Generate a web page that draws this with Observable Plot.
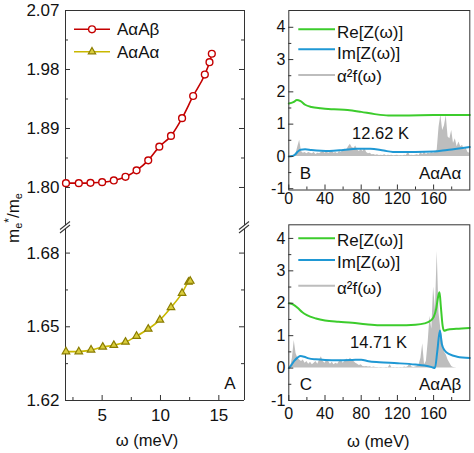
<!DOCTYPE html>
<html><head><meta charset="utf-8">
<script src="https://cdn.jsdelivr.net/npm/d3@7"></script>
<script src="https://cdn.jsdelivr.net/npm/@observablehq/plot@0.6"></script>
<style>
body{margin:0;background:#fff;}
#root{position:relative;width:474px;height:453px;overflow:hidden;font-family:"Liberation Sans",Arial,sans-serif;color:#111;}
.pane{position:absolute;}
.pane svg{display:block;}
#ylab{position:absolute;left:13px;top:218px;transform:translate(-50%,-50%) rotate(-90deg);white-space:nowrap;font-size:17px;line-height:17px;}
#ylab sub{font-size:11px;vertical-align:-3px;line-height:0;}
#ylab sup{font-size:12px;vertical-align:6px;line-height:0;}
</style></head><body><div id="root"><div id="ylab">m<sub>e</sub><sup>*</sup>/m<sub>e</sub></div></div>
<script>
// ---------------- data ----------------
// Panel A: effective mass vs omega
const omegaBeta  = [1.9, 3.0, 4.0, 5.0, 6.0, 7.0, 7.95, 8.95, 9.9, 10.9, 11.85, 12.8, 13.8, 14.2, 14.4];
const massBeta   = [1.8066, 1.8066, 1.8071, 1.8081, 1.8107, 1.8163, 1.8261, 1.8414, 1.8623, 1.8787, 1.9058, 1.9396, 1.9723, 1.9911, 2.004];
const omegaAlpha = [1.9, 3.0, 4.05, 5.05, 6.0, 7.0, 7.95, 8.95, 9.95, 10.9, 11.85, 12.4, 12.55];
const massAlpha  = [1.6399, 1.6399, 1.6406, 1.6418, 1.6425, 1.6438, 1.6462, 1.6491, 1.6528, 1.6579, 1.6637, 1.6682, 1.6686];
const xDomainA = [1.86, 17.2];
const yDomainUpper = [1.742, 2.07];
const yDomainLower = [1.62, 1.6896];
const xTicksA = [5, 10, 15];
const xMinorA = [2.5, 7.5, 12.5];
const yTicksUpper = [1.80, 1.89, 1.98, 2.07];
const yMinorUpper = [1.845, 1.935, 2.025];
const yTicksLower = [1.62, 1.65, 1.68];
const yMinorLower = [1.635, 1.665];
const seriesNamesA = ["AαAβ", "AαAα"];

// Panels B / C: Z(omega) and alpha^2 F(omega)
const reOmegaB = [0, 5, 9, 13, 18, 25, 35, 50, 65, 80, 95, 110, 130, 160, 180, 200];
const reZB     = [1.64, 1.68, 1.75, 1.71, 1.60, 1.53, 1.49, 1.46, 1.44, 1.38, 1.31, 1.27, 1.27, 1.28, 1.28, 1.28];
const imOmegaB = [0, 4, 7, 10, 13, 18, 25, 45, 60, 75, 90, 105, 115, 140, 160, 175, 190, 200];
const imZB     = [0, 0.01, 0.06, 0.15, 0.21, 0.22, 0.2, 0.17, 0.2, 0.24, 0.24, 0.18, 0.14, 0.14, 0.15, 0.2, 0.25, 0.29];
const reOmegaC = [0, 5, 10, 15, 20, 30, 40, 55, 70, 85, 100, 120, 140, 150, 156, 160, 163, 165, 166.5, 168, 170, 171.5, 175, 185, 200];
const reZC     = [2.0, 1.96, 1.85, 1.72, 1.63, 1.53, 1.47, 1.43, 1.40, 1.35, 1.32, 1.32, 1.34, 1.38, 1.45, 1.57, 1.85, 2.2, 2.34, 1.9, 1.3, 1.15, 1.18, 1.21, 1.24];
const imOmegaC = [0, 3, 6, 10, 13, 17, 22, 30, 40, 55, 70, 80, 88, 100, 120, 140, 150, 158, 161.5, 164, 167, 169, 172, 178, 186, 200];
const imZC     = [0, 0.1, 0.22, 0.33, 0.37, 0.35, 0.3, 0.27, 0.25, 0.24, 0.25, 0.26, 0.21, 0.18, 0.15, 0.11, 0.08, 0.03, 0.0, 0.5, 1.16, 0.75, 0.55, 0.42, 0.35, 0.31];
const a2fOmega = [0,2,4,6,8,10,12,14,16,18,20,22,24,26,28,30,32,34,36,38,40,42,44,46,48,50,52,54,56,58,60,62,64,66,68,70,72,74,76,78,80,82,84,86,88,90,92,94,96,98,100,102,104,106,108,110,112,114,116,118,120,122,124,126,128,130,132,134,136,138,140,142,144,146,148,150,152,154,156,158,160,162,164,166,168,170,172,174,176,178,180,182,184,186,188,190,192,194,196,198,200];
const a2fB = [0,0,0.02,0.04,0.08,0.3,0.5,0.15,0.1,0.12,0.08,0.12,0.1,0.08,0.12,0.06,0.1,0.08,0.12,0.15,0.1,0.14,0.1,0.12,0.16,0.1,0.12,0.08,0.15,0.12,0.18,0.22,0.2,0.3,0.38,0.28,0.25,0.32,0.2,0.15,0.22,0.15,0.25,0.12,0.08,0.1,0.05,0.06,0.04,0.05,0.03,0.04,0.03,0.05,0.02,0.04,0.03,0.04,0.02,0.03,0.04,0.02,0.03,0.02,0.04,0.03,0.14,0.03,0.04,0.03,0.04,0.05,0.03,0.12,0.05,0.15,0.06,0.1,0.08,0.12,0.1,0.12,0.2,0.9,1.28,0.8,0.95,1.27,0.6,0.55,0.8,0.4,0.55,0.3,0.45,0.3,0.35,0.2,0.25,0.12,0.1];
const a2fC = [0,0.02,0.3,0.85,0.45,0.3,0.25,0.2,0.25,0.15,0.2,0.12,0.18,0.1,0.15,0.2,0.12,0.25,0.35,0.2,0.15,0.25,0.2,0.12,0.18,0.1,0.15,0.12,0.2,0.25,0.15,0.2,0.28,0.22,0.3,0.25,0.2,0.15,0.12,0.08,0.1,0.05,0.04,0.05,0.03,0.04,0.02,0.03,0.02,0.02,0.01,0.02,0.01,0.01,0.02,0.01,0.1,0.01,0.02,0.01,0.02,0.01,0.02,0.01,0.03,0.02,0.05,0.15,0.03,0.02,0.03,0.05,0.1,0.3,0.75,0.1,0.2,0.8,1.6,1.2,2.5,1.8,3.6,1.7,1.2,0.9,0.5,0.4,0.25,0.15,0.05,0.02,0.01,0,0,0,0,0,0,0,0];
const xDomainZ = [0, 200];
const yDomainB = [-1.04, 4.52];
const yDomainC = [-1.0, 4.42];
const xTicksZ = [0, 40, 80, 120, 160];
const xMinorZ = [20, 60, 100, 140, 180];
const yTicksZ = [-1, 0, 1, 2, 3, 4];
const yMinorZ = [-0.5, 0.5, 1.5, 2.5, 3.5];
const legendZ = ["Re[Z(ω)]", "Im[Z(ω)]", "α²f(ω)"];
const tcB = "12.62 K", tcC = "14.71 K";

// ---------------- styles ----------------
const FONT = "'Liberation Sans', Arial, sans-serif";
const AX = "#333";
const RED = "#c40000", YEL = "#c9b800", YELFILL = "#d9cd3c", YELSTROKE = "#8a7c00";
const GREEN = "#3ccc2c", BLUE = "#1f98d4", GRAY = "#bdbdbd";
const root = document.getElementById("root");
const style = {background: "transparent", overflow: "visible", fontFamily: FONT};

function place(svg, left, top) {
  const d = document.createElement("div");
  d.className = "pane";
  d.style.left = left + "px"; d.style.top = top + "px";
  d.appendChild(svg); root.appendChild(d);
  return d3.select(svg);
}
const tY = (vals, side, len, W) => Plot.tickY(vals, {y: d => d, stroke: AX, insetLeft: side === "right" ? W - len : 0, insetRight: side === "left" ? W - len : 0});
const tX = (vals, side, len, H) => Plot.tickX(vals, {x: d => d, stroke: AX, insetTop: side === "bottom" ? H - len : 0, insetBottom: side === "top" ? H - len : 0});
const note = (txt, frameAnchor, opts) => Plot.text([txt], {frameAnchor, lineAnchor: "middle", textAnchor: "middle", fill: "#111", ...opts});

// ---------------- panel A (upper) ----------------
const AW = 250, AML = 65, AMR = 6, AFW = AW - AML - AMR;
const upH = 225;
const up = Plot.plot({
  width: AW, height: upH, marginLeft: AML, marginRight: AMR, marginTop: 10, marginBottom: 0, style,
  x: {domain: xDomainA, axis: null},
  y: {domain: yDomainUpper},
  marks: [
    Plot.ruleX(xDomainA, {stroke: AX}),
    Plot.ruleY([yDomainUpper[1]], {stroke: AX}),
    tY(yTicksUpper, "left", 5, AFW), tY(yMinorUpper, "left", 3, AFW),
    tY(yTicksUpper, "right", 5, AFW), tY(yMinorUpper, "right", 3, AFW),
    Plot.axisY({ticks: yTicksUpper, tickSize: 0, tickPadding: 6, tickFormat: d3.format(".2f"), fontSize: 17, label: null, fill: "#111"}),
    Plot.line(omegaBeta, {x: d => d, y: (d, i) => massBeta[i], stroke: RED, strokeWidth: 1.6, curve: "monotone-x"}),
    Plot.dot(omegaBeta, {x: d => d, y: (d, i) => massBeta[i], r: 3.4, stroke: RED, strokeWidth: 1.4, fill: "white"})
  ]
});
const upS = place(up, 0, 0);
// legend
const lg = upS.append("g").attr("text-anchor", "start");
lg.append("line").attr("x1", 74).attr("x2", 110).attr("y1", 29.3).attr("y2", 29.3).attr("stroke", RED).attr("stroke-width", 1.6);
lg.append("circle").attr("cx", 92).attr("cy", 29.3).attr("r", 3.4).attr("fill", "white").attr("stroke", RED).attr("stroke-width", 1.4);
lg.append("text").attr("x", 117).attr("y", 29.3).attr("dy", "0.35em").attr("font-size", 17).attr("fill", "#111").text(seriesNamesA[0]);
lg.append("line").attr("x1", 74).attr("x2", 110).attr("y1", 51.7).attr("y2", 51.7).attr("stroke", YEL).attr("stroke-width", 1.6);
lg.append("path").attr("transform", "translate(92,51.7)").attr("d", d3.symbol(d3.symbolTriangle, 23)()).attr("fill", YELFILL).attr("stroke", YELSTROKE).attr("stroke-width", 1.2);
lg.append("text").attr("x", 117).attr("y", 51.7).attr("dy", "0.35em").attr("font-size", 17).attr("fill", "#111").text(seriesNamesA[1]);

// ---------------- panel A (lower) ----------------
const loTop = 229, loH = 224, loFH = 171;
const lo = Plot.plot({
  width: AW, height: loH, marginLeft: AML, marginRight: AMR, marginTop: 0, marginBottom: loH - loFH, style,
  x: {domain: xDomainA},
  y: {domain: yDomainLower},
  marks: [
    Plot.ruleX(xDomainA, {stroke: AX}),
    Plot.ruleY([yDomainLower[0]], {stroke: AX}),
    tY(yTicksLower, "left", 5, AFW), tY(yMinorLower, "left", 3, AFW),
    tY(yTicksLower, "right", 5, AFW), tY(yMinorLower, "right", 3, AFW),
    tX(xTicksA, "bottom", 5, loFH), tX(xMinorA, "bottom", 3, loFH),
    Plot.axisY({ticks: yTicksLower, tickSize: 0, tickPadding: 6, tickFormat: d3.format(".2f"), fontSize: 17, label: null, fill: "#111"}),
    Plot.axisX({ticks: xTicksA, tickSize: 0, tickPadding: 8, fontSize: 17, label: null, fill: "#111"}),
    note("A", "bottom-right", {textAnchor: "end", dx: -9, dy: -17, fontSize: 17}),
    note("ω (meV)", "bottom", {dx: -8, dy: 40.5, fontSize: 16.5}),
    Plot.line(omegaAlpha, {x: d => d, y: (d, i) => massAlpha[i], stroke: YEL, strokeWidth: 1.6, curve: "monotone-x"}),
    Plot.dot(omegaAlpha, {x: d => d, y: (d, i) => massAlpha[i], symbol: "triangle", r: 2.8, fill: YELFILL, stroke: YELSTROKE, strokeWidth: 1.2})
  ]
});
place(lo, 0, loTop);

// axis-break marks (decoration)
const brk = upS.append("g").attr("stroke", AX).attr("stroke-width", 1.1);
[AML, AW - AMR].forEach(x => {
  const y = 227;
  brk.append("line").attr("x1", x - 5).attr("y1", y + 2.5).attr("x2", x + 5).attr("y2", y - 5.5);
  brk.append("line").attr("x1", x - 5).attr("y1", y + 6).attr("x2", x + 5).attr("y2", y - 2);
});

// ---------------- panels B and C ----------------
function zPanel({top, height, mTop, mBottom, yDomain, reO, reV, imO, imV, a2f, tc, tcDx, tcDy, letter, label, labDy, padX, xlabel, leg}) {
  const W = 224, ML = 38.3, MR = 4.7, FW = W - ML - MR, FH = height - mTop - mBottom;
  const p = Plot.plot({
    width: W, height, marginLeft: ML, marginRight: MR, marginTop: mTop, marginBottom: mBottom, style,
    x: {domain: xDomainZ},
    y: {domain: yDomain},
    marks: [
      Plot.areaY(a2fOmega, {x: d => d, y: (d, i) => a2f[i], fill: GRAY, curve: "linear"}),
      Plot.line(reO, {x: d => d, y: (d, i) => reV[i], stroke: GREEN, strokeWidth: 2, curve: "monotone-x"}),
      Plot.line(imO, {x: d => d, y: (d, i) => imV[i], stroke: BLUE, strokeWidth: 2, curve: "monotone-x"}),
      Plot.frame({stroke: AX}),
      tY(yTicksZ, "left", 5, FW), tY(yMinorZ, "left", 3, FW),
      tX(xTicksZ, "bottom", 5, FH), tX(xMinorZ, "bottom", 3, FH),
      Plot.axisY({ticks: yTicksZ, tickSize: 0, tickPadding: 3.5, tickFormat: d => String(d), fontSize: 16, label: null, fill: "#111"}),
      Plot.axisX({ticks: xTicksZ, tickSize: 0, tickPadding: padX, tickFormat: d => String(d), fontSize: 16, label: null, fill: "#111"}),
      note(tc, "top-left", {dx: tcDx, dy: tcDy, fontSize: 16.5}),
      note(letter, "bottom-left", {textAnchor: "start", dx: 11, dy: labDy, fontSize: 17}),
      note(label, "bottom-right", {textAnchor: "end", dx: -8.5, dy: labDy, fontSize: 17}),
      ...(xlabel ? [note(xlabel, "bottom", {dx: -1, dy: 41, fontSize: 16.5})] : [])
    ]
  });
  const s = place(p, 250, top);
  const g = s.append("g").attr("text-anchor", "start");
  const cols = [GREEN, BLUE, GRAY];
  leg.forEach(([ly, ty], i) => {
    g.append("line").attr("x1", 298.3 - 250).attr("x2", 335 - 250).attr("y1", ly).attr("y2", ly).attr("stroke", cols[i]).attr("stroke-width", 2);
    g.append("text").attr("x", 337 - 250).attr("y", ty).attr("dy", "0.35em").attr("font-size", 17).attr("fill", "#111").text(legendZ[i]);
  });
}
zPanel({top: 0, height: 215, mTop: 10, mBottom: 25.5, yDomain: yDomainB, reO: reOmegaB, reV: reZB, imO: imOmegaB, imV: imZB, a2f: a2fB,
  tc: tcB, tcDx: 91.7, tcDy: 123, letter: "B", label: "AαAα", labDy: -16.5, padX: 2.5, xlabel: null,
  leg: [[29.3, 31.7], [49.3, 52.7], [75, 76]]});
zPanel({top: 215, height: 238, mTop: 9.3, mBottom: 53, yDomain: yDomainC, reO: reOmegaC, reV: reZC, imO: imOmegaC, imV: imZC, a2f: a2fC,
  tc: tcC, tcDx: 89.7, tcDy: 118, letter: "C", label: "AαAβ", labDy: -16, padX: 7.5, xlabel: "ω (meV)",
  leg: [[23.3, 25], [45, 46.7], [70.7, 72.7]]});
</script>
</body></html>
